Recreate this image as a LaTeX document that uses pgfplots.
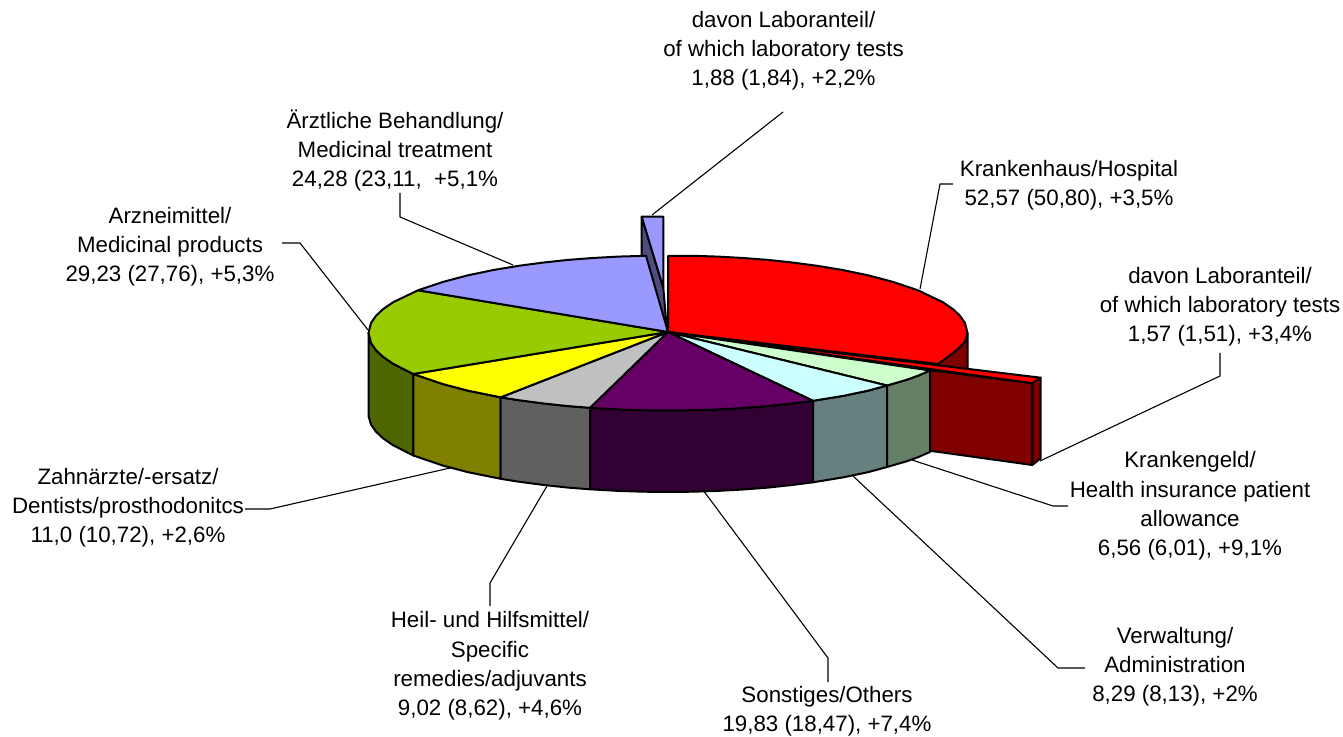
\documentclass[border=0pt]{standalone}
\usepackage{pgfplots}
\usepackage{fontspec}
\setmainfont{Liberation Sans}
\pgfplotsset{compat=1.18}
\definecolor{cRed}{HTML}{FF0000}\definecolor{dRed}{HTML}{800000}
\definecolor{cPale}{HTML}{CCFFCC}\definecolor{dPale}{HTML}{668066}
\definecolor{cCyan}{HTML}{CCFFFF}\definecolor{dCyan}{HTML}{668080}
\definecolor{cPurp}{HTML}{660066}\definecolor{dPurp}{HTML}{330033}
\definecolor{cGrey}{HTML}{C0C0C0}\definecolor{dGrey}{HTML}{606060}
\definecolor{cYell}{HTML}{FFFF00}\definecolor{dYell}{HTML}{808000}
\definecolor{cGree}{HTML}{99CC00}\definecolor{dGree}{HTML}{4D6600}
\definecolor{cBlue}{HTML}{9999FF}\definecolor{dBlue}{HTML}{4D4D80}
\newcommand{\lab}[3]{\node[align=center,inner sep=0pt,anchor=center,font=\fontsize{11.15}{14.6}\selectfont] at (axis cs:#1,#2) {#3};}
\pgfplotsset{
  face/.style={fill=#1,draw=black,line width=1pt,line join=round},
  leader/.style={draw=black,line width=0.55pt,no markers}
}
\begin{document}
\begin{tikzpicture}
\useasboundingbox (0,0) rectangle (671.5pt,368.5pt);
\begin{axis}[at={(0,0)},anchor=south west,scale only axis,width=671.5pt,height=368.5pt,
  xmin=0,xmax=1343,ymin=0,ymax=737,y dir=reverse,hide axis,clip=false]
% leaders
\addplot[leader] coordinates {(783,112)(652,215)};
\addplot[leader] coordinates {(953,184)(940,184)(920,289)};
\addplot[leader] coordinates {(1220,353)(1220,376)(1040,461)};
\addplot[leader] coordinates {(1068,506)(1053,506)(912,460)};
\addplot[leader] coordinates {(1085,668)(1058,668)(853,476)};
\addplot[leader] coordinates {(828,682)(828,658)(703,490)};
\addplot[leader] coordinates {(490,606)(490,583)(547,486)};
\addplot[leader] coordinates {(245,509)(270,509)(450,468)};
\addplot[leader] coordinates {(282,243)(300,243)(368,330)};
\addplot[leader] coordinates {(400,193)(400,217)(513,265)};
% exploded laboratory piece of medical treatment
\addplot[face=dBlue] coordinates {(641.7,216.7)(663.3,288)(667,331)(641.7,298)} --cycle;
\addplot[face=cBlue] coordinates {(641.7,216.7)(663.3,216.7)(663.3,288)} --cycle;
% hospital side behind the slab
\addplot[face=dRed] coordinates {(967.5,333)(967.5,369.5)(938,373)(938,364)(960,347)} --cycle;
% exploded laboratory piece of hospital
\addplot[face=cRed] coordinates {(668,332.5)(1040.7,377.7)(1032.3,383.3)} --cycle;
\addplot[face=dRed] coordinates {(1032.3,383.3)(1040.7,377.7)(1040.7,458.3)(1032.3,465)} --cycle;
\addplot[face=dRed] coordinates {(928,370)(1032.3,383.3)(1032.3,465)(928,450.5)} --cycle;
% side faces
\addplot[face=dGree] coordinates {(368.5,333)(371,343)(376,350.2)(383,356.8)(393,363.7)(413.3,374)(413.3,455.5)(393,445.2)(383,438.3)(376,431.7)(371,424.5)(368.5,416)} --cycle;
\addplot[face=dYell] coordinates {(413.3,374)(443,384.1)(468,390.7)(500.7,397.3)(500.7,478.8)(468,472.2)(443,465.6)(413.3,455.5)} --cycle;
\addplot[face=dGrey] coordinates {(500.7,397.3)(518,400.1)(543,403.4)(568,406.1)(590,407.8)(590,489.3)(568,487.6)(543,484.9)(518,481.6)(500.7,478.8)} --cycle;
\addplot[face=dPurp] coordinates {(590,407.8)(618,409.4)(643,410.2)(668,410.5)(693,410.2)(718,409.4)(743,408)(768,406.1)(793,403.4)(813,400.8)(813,482.3)(793,484.9)(768,487.6)(743,489.5)(718,490.9)(693,491.7)(668,492)(643,491.7)(618,490.9)(590,489.3)} --cycle;
\addplot[face=dCyan] coordinates {(813,400.8)(843,395.9)(868,390.7)(887,385.5)(887,467)(868,472.2)(843,477.4)(813,482.3)} --cycle;
\addplot[face=dPale] coordinates {(887,385.5)(906,380)(918,375.7)(930,370.5)(930,452)(918,457.2)(906,461.5)(887,467)} --cycle;
% top faces
\addplot[face=cRed] coordinates {(668,256)(693,255.8)(718,256.6)(743,258)(768,259.9)(793,262.6)(818,265.9)(843,270.1)(868,275.3)(893,281.9)(918,290.3)(943,302.3)(953,309.2)(960,315.8)(965,323)(967.5,333)(965,342)(960,347)(953,353)(945,359)(938,364)(668,332)} --cycle;
\addplot[face=cPale] coordinates {(668,332)(930,370.5)(918,375.7)(906,380)(887,385.5)} --cycle;
\addplot[face=cCyan] coordinates {(668,332)(887,385.5)(868,390.7)(843,395.9)(813,400.8)} --cycle;
\addplot[face=cPurp] coordinates {(668,332)(813,400.8)(793,403.4)(768,406.1)(743,408)(718,409.4)(693,410.2)(668,410.5)(643,410.2)(618,409.4)(590,407.8)} --cycle;
\addplot[face=cGrey] coordinates {(668,332)(590,407.8)(568,406.1)(543,403.4)(518,400.1)(500.7,397.3)} --cycle;
\addplot[face=cYell] coordinates {(668,332)(500.7,397.3)(468,390.7)(443,384.1)(413.3,374)} --cycle;
\addplot[face=cGree] coordinates {(668,332)(413.3,374)(393,363.7)(383,356.8)(376,350.2)(371,343)(368.5,333)(371,323)(376,315.8)(383,309.2)(393,302.3)(418,290.3)} --cycle;
\addplot[face=cBlue] coordinates {(668,332)(418,290.3)(443,281.9)(468,275.3)(493,270.1)(518,265.9)(543,262.6)(568,259.9)(593,258)(618,256.6)(646,255.8)} --cycle;
% labels
\lab{783.5}{51}{davon Laboranteil/\\of which laboratory tests\\1,88 (1,84), +2,2\%}
\lab{395}{150.5}{Ärztliche Behandlung/\\Medicinal treatment\\24,28 (23,11,~ +5,1\%}
\lab{170}{247}{Arzneimittel/\\Medicinal products\\29,23 (27,76), +5,3\%}
\lab{1069}{185}{Krankenhaus/Hospital\\52,57 (50,80), +3,5\%}
\lab{1220}{306.5}{davon Laboranteil/\\of which laboratory tests\\1,57 (1,51), +3,4\%}
\lab{1190}{506}{Krankengeld/\\Health insurance patient\\allowance\\6,56 (6,01), +9,1\%}
\lab{1175}{667}{Verwaltung/\\Administration\\8,29 (8,13), +2\%}
\lab{827}{711}{Sonstiges/Others\\19,83 (18,47), +7,4\%}
\lab{490}{666}{Heil- und Hilfsmittel/\\Specific\\remedies/adjuvants\\9,02 (8,62), +4,6\%}
\lab{128}{508}{Zahnärzte/-ersatz/\\Dentists/prosthodonitcs\\11,0 (10,72), +2,6\%}
\end{axis}
\end{tikzpicture}
\end{document}
